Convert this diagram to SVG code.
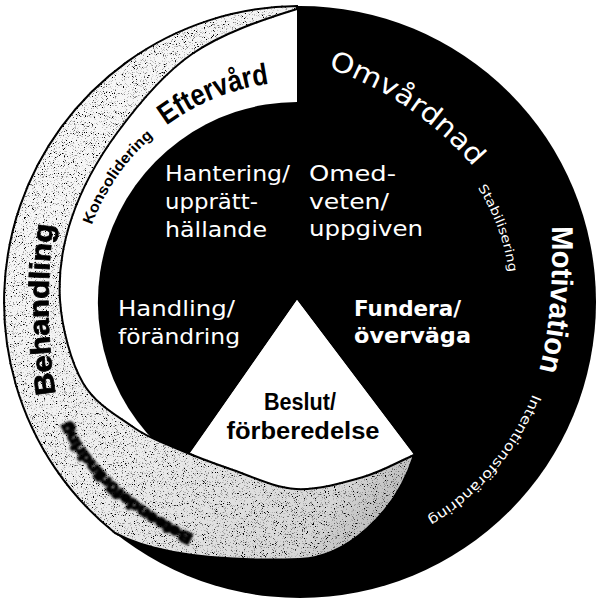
<svg xmlns="http://www.w3.org/2000/svg" width="596" height="602" viewBox="0 0 596 602">
<defs>
  <linearGradient id="gshade" x1="0" y1="0" x2="1" y2="1">
    <stop offset="0" stop-color="#fcfcfc"/>
    <stop offset="0.55" stop-color="#eeeeee"/>
    <stop offset="0.85" stop-color="#d6d6d6"/>
    <stop offset="1" stop-color="#a0a0a0"/>
  </linearGradient>
  <filter id="grain" x="-0.05" y="-0.05" width="1.1" height="1.1">
    <feTurbulence type="fractalNoise" baseFrequency="1.1" numOctaves="2" seed="5" result="noise"/>
    <feColorMatrix in="noise" type="matrix" values="0 0 0 0 0  0 0 0 0 0  0 0 0 0 0  6 0 0 0 -3.45" result="dots"/>
    <feComposite in="dots" in2="SourceGraphic" operator="in" result="cd"/>
    <feMerge><feMergeNode in="SourceGraphic"/><feMergeNode in="cd"/></feMerge>
  </filter>
  <filter id="smear" x="-0.2" y="-0.2" width="1.4" height="1.4"><feGaussianBlur stdDeviation="1.3"/></filter>
  <filter id="soft" x="-0.1" y="-0.1" width="1.2" height="1.2"><feGaussianBlur stdDeviation="0.5"/></filter>
  <path id="arcK" d="M85.5,245.1 A220,220 0 0 1 305.7,82.1"/>
  <path id="pOmv" d="M328,68 Q418,100 476,170"/>
  <path id="arcS" d="M474.6,182.9 A213,213 0 0 1 511,302"/>
  <path id="pMot" d="M552,222 C553,290 550,330 538,375"/>
  <path id="arcI" d="M537.7,379.9 A252,252 0 0 1 404.5,530.4"/>
  <path id="pBeh" d="M56,396 Q42,310 54,222"/>
  <path id="pBet" d="M195,536 Q97,490 63,410"/>
</defs>
<style>
  .w { fill:#fff; font-family:"DejaVu Sans","Liberation Sans",sans-serif; font-size:21px; }
  .wb { fill:#fff; font-family:"DejaVu Sans","Liberation Sans",sans-serif; font-size:21px; font-weight:bold; }
  .lb { font-family:"Liberation Sans",Arial,sans-serif; font-weight:bold; }
  .lr { font-family:"DejaVu Sans","Liberation Sans",sans-serif; }
</style>

<g id="ring">
  <circle cx="300" cy="302" r="296" fill="#000"/>
</g>

<g id="eftervard">
  <path d="M297,9 L297,300 L414,455 C397,462.3 382.7,471.3 363,477 C343.3,482.7 317.7,490.2 296,489 C274.3,487.8 253.5,477 233,470 C212.5,463 189.7,454.2 173,447 C156.3,439.8 148,437.7 133,427 C118,416.3 95.2,404.2 83,383 C70.8,361.8 61.8,327.7 60,300 C58.2,272.3 62.5,244.8 72,217 C81.5,189.2 97,160.2 117,133 C137,105.8 162,74.7 192,54 C222,33.3 262.3,19.7 297,9 Z" fill="#fff"/>
  <text class="lb" font-size="15" fill="#000"><textPath href="#arcK" startOffset="21" textLength="109" lengthAdjust="spacingAndGlyphs">Konsolidering</textPath></text>
  <text class="lb" font-size="30" fill="#000"><textPath href="#arcK" startOffset="147" textLength="112" lengthAdjust="spacingAndGlyphs">Eftervård</textPath></text>
</g>

<g id="inner">
  <path d="M297,102 A200,200 0 0 0 182,465 L297,300 Z" fill="#000"/>
</g>

<g id="beslut">
  <polygon points="297,300 190,453 414,455" fill="#fff"/>
  <text class="lb" font-size="23" fill="#000" x="300" y="410" text-anchor="middle" textLength="72" lengthAdjust="spacingAndGlyphs">Beslut/</text>
  <text class="lb" font-size="23" fill="#000" x="303" y="439" text-anchor="middle" textLength="153" lengthAdjust="spacingAndGlyphs">förberedelse</text>
</g>

<g id="behandling">
  <path d="M297,6 A296,296 0 0 0 115,533 C150,552 210,562 300,559 C345,557 395,515 414,455 C397,462.3 382.7,471.3 363,477 C343.3,482.7 317.7,490.2 296,489 C274.3,487.8 253.5,477 233,470 C212.5,463 189.7,454.2 173,447 C156.3,439.8 148,437.7 133,427 C118,416.3 95.2,404.2 83,383 C70.8,361.8 61.8,327.7 60,300 C58.2,272.3 62.5,244.8 72,217 C81.5,189.2 97,160.2 117,133 C137,105.8 162,74.7 192,54 C222,33.3 262.3,19.7 297,9 Z" fill="url(#gshade)" stroke="#000" stroke-width="2" filter="url(#grain)"/>
  <text class="lb" font-size="28" fill="#000" stroke="#000" stroke-width="0.8" filter="url(#soft)"><textPath href="#pBeh" startOffset="2" textLength="170" lengthAdjust="spacingAndGlyphs">Behandling</textPath></text>
  <text class="lb" font-size="15" fill="#000" stroke="#000" stroke-width="2.2" filter="url(#smear)"><textPath href="#pBet" startOffset="2" textLength="172" lengthAdjust="spacingAndGlyphs">Beteendeförändring</textPath></text>
</g>

<g id="omvardnad">
  <text class="lr" font-size="27" fill="#fff"><textPath href="#pOmv" startOffset="0" textLength="178" lengthAdjust="spacingAndGlyphs">Omvårdnad</textPath></text>
  <text class="lr" font-size="12.5" fill="#fff"><textPath href="#arcS" startOffset="5.6" textLength="91" lengthAdjust="spacingAndGlyphs">Stabilisering</textPath></text>
</g>

<g id="motivation">
  <text class="lb" font-size="30" fill="#fff"><textPath href="#pMot" startOffset="4" textLength="146" lengthAdjust="spacingAndGlyphs">Motivation</textPath></text>
  <text class="lr" font-size="13.5" fill="#fff"><textPath href="#arcI" startOffset="15" textLength="166" lengthAdjust="spacingAndGlyphs">Intentionsförändring</textPath></text>
</g>

<g id="hantering">
  <text class="w" x="165" y="181" textLength="125" lengthAdjust="spacingAndGlyphs">Hantering/</text>
  <text class="w" x="165" y="209" textLength="93" lengthAdjust="spacingAndGlyphs">upprätt-</text>
  <text class="w" x="165" y="237" textLength="102" lengthAdjust="spacingAndGlyphs">hällande</text>
</g>

<g id="omedveten">
  <text class="w" x="309" y="181" textLength="87" lengthAdjust="spacingAndGlyphs">Omed-</text>
  <text class="w" x="309" y="209" textLength="80" lengthAdjust="spacingAndGlyphs">veten/</text>
  <text class="w" x="309" y="236" textLength="114" lengthAdjust="spacingAndGlyphs">uppgiven</text>
</g>

<g id="handling">
  <text class="w" x="118" y="316" textLength="117" lengthAdjust="spacingAndGlyphs">Handling/</text>
  <text class="w" x="118" y="344" textLength="122" lengthAdjust="spacingAndGlyphs">förändring</text>
</g>

<g id="fundera">
  <text class="wb" x="354" y="316" textLength="107" lengthAdjust="spacingAndGlyphs">Fundera/</text>
  <text class="wb" x="354" y="343" textLength="117" lengthAdjust="spacingAndGlyphs">överväga</text>
</g>

<g id="connectors"></g>
</svg>
